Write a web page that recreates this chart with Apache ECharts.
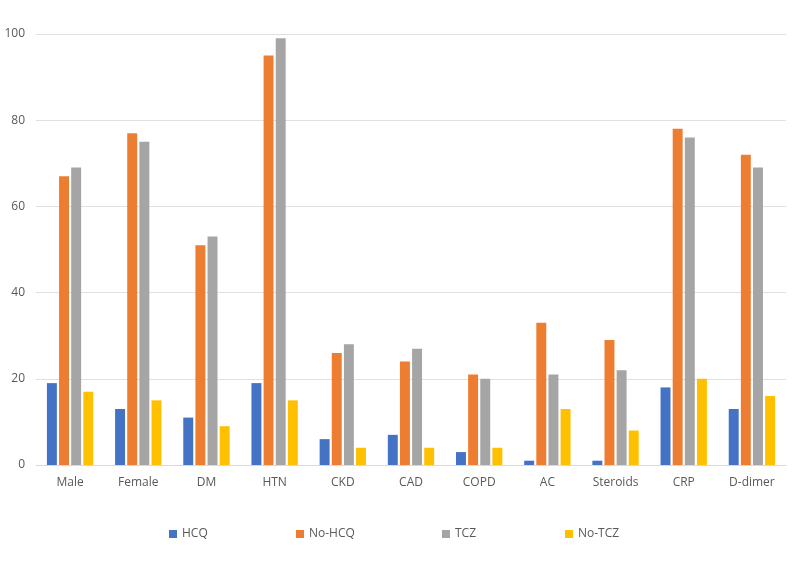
<!DOCTYPE html>
<html><head><meta charset="utf-8">
<script src="https://cdn.jsdelivr.net/npm/echarts@6/dist/echarts.min.js"></script>
<style>html,body{margin:0;padding:0;background:#fff}#c{width:800px;height:583px}</style>
</head><body><div id="c"></div>
<script>
const categories = ['Male','Female','DM','HTN','CKD','CAD','COPD','AC','Steroids','CRP','D-dimer'];
const hcq    = [19,13,11,19,6,7,3,1,1,18,13];
const noHcq  = [67,77,51,95,26,24,21,33,29,78,72];
const tcz    = [69,75,53,99,28,27,20,21,22,76,69];
const noTcz  = [17,15,9,15,4,4,4,13,8,20,16];
const seriesNames = ['HCQ','No-HCQ','TCZ','No-TCZ'];
const yTicks = [0,20,40,60,80,100];

const colors = ['#4472C4','#ED7D31','#A5A5A5','#FFC000'];
const values = [hcq, noHcq, tcz, noTcz];
const font = 'Open Sans, Liberation Sans, sans-serif';
const legendLefts = [164, 291, 437, 560];

const chart = echarts.init(document.getElementById('c'));
chart.setOption({
  animation:false,
  color: colors,
  grid:{left:36,right:14,top:34,bottom:118},
  legend: seriesNames.map((n,i)=>({
    data:[n], left:legendLefts[i], top:523, itemWidth:8, itemHeight:8, icon:'rect',
    itemGap:4,
    textStyle:{color:'#595959', fontSize:12, fontFamily:font}
  })),
  xAxis:{type:'category', data:categories,
    axisLine:{lineStyle:{color:'#d9d9d9'}}, axisTick:{show:false},
    axisLabel:{color:'#595959', fontSize:12, fontFamily:font, margin:12}},
  yAxis:{type:'value', min:0, max:100, interval:20,
    axisLine:{show:false}, axisTick:{show:false},
    splitLine:{lineStyle:{color:'#e0e0e0'}},
    axisLabel:{color:'#595959', fontSize:12, fontFamily:font, margin:11,
      formatter:v=>yTicks.includes(v)?String(v):''}},
  series: seriesNames.map((n,i)=>({
    name:n, type:'bar', data:values[i], barGap:'22%', barCategoryGap:'32%',
    itemStyle:{color:colors[i]}
  }))
});
</script></body></html>
